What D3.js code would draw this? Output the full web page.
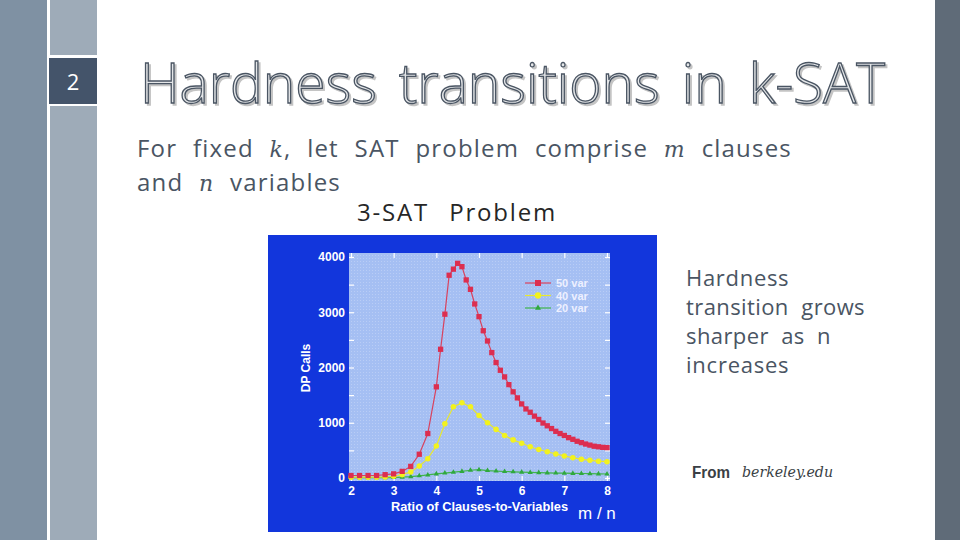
<!DOCTYPE html>
<html>
<head>
<meta charset="UTF-8">
<script src="https://d3js.org/d3.v7.min.js"></script>
<style>
  body { margin: 0; background: #fff; }
  svg text { white-space: pre; }
</style>
</head>
<body>
<div id="slide"></div>
<script>
// ---- data ----
var ratio50 = [2.0,2.2,2.4,2.6,2.8,3.0,3.2,3.4,3.6,3.8,
               4.0,4.1,4.2,4.3,4.4,4.5,4.6,4.7,4.8,4.9,
               5.0,5.1,5.2,5.3,5.4,5.5,5.6,5.7,5.8,5.9,
               6.0,6.1,6.2,6.3,6.4,6.5,6.6,6.7,6.8,6.9,
               7.0,7.1,7.2,7.3,7.4,7.5,7.6,7.7,7.8,7.9,8.0];
var calls50 = [45,45,45,45,60,75,120,210,430,805,
               1650,2330,2965,3670,3780,3885,3825,3585,3415,3150,
               2920,2665,2480,2270,2090,1950,1830,1690,1560,1450,
               1340,1250,1190,1120,1060,995,945,895,845,805,
               770,730,700,665,640,615,595,575,565,555,550];
var ratio40 = [2.0,2.2,2.4,2.6,2.8,3.0,3.2,3.4,3.6,3.8,
               4.0,4.2,4.4,4.6,4.8,5.0,5.2,5.4,5.6,5.8,
               6.0,6.2,6.4,6.6,6.8,7.0,7.2,7.4,7.6,7.8,8.0];
var calls40 = [15,15,15,15,20,30,60,110,215,350,
               580,980,1290,1360,1290,1130,1000,880,770,690,
               630,565,515,475,435,400,365,340,320,305,295];
var ratio20 = ratio40;
var calls20 = [5,5,5,5,5,8,15,25,40,55,
               75,90,105,120,140,150,135,125,118,112,
               106,101,97,93,90,87,84,81,78,75,72];
var seriesNames = ["50 var", "40 var", "20 var"];
var xTicks = [2,3,4,5,6,7,8];
var yTicks = [0,1000,2000,3000,4000];
var yMinor = [0,500,1000,1500,2000,2500,3000,3500,4000];

var width = 960, height = 540;
var slate = "#4a5563";

var svg = d3.select("#slide").append("svg")
    .attr("width", width)
    .attr("height", height);

// stretch the gaps between words so a line ends where the slide's does
function fitWords(sel, target) {
    var txt = sel.text();
    var gaps = (txt.match(/ /g) || []).length;
    var w = sel.node().getComputedTextLength();
    if (gaps > 0) sel.attr("word-spacing", (target - w) / gaps);
    return sel;
}

// ---- slide decoration ----
svg.append("rect").attr("x", 0).attr("y", 0).attr("width", 47).attr("height", height).attr("fill", "#7f91a3");
svg.append("rect").attr("x", 50).attr("y", 0).attr("width", 47).attr("height", height).attr("fill", "#9eabb8");
svg.append("rect").attr("x", 48).attr("y", 55).attr("width", 50).attr("height", 51).attr("fill", "#fff");
svg.append("rect").attr("x", 49).attr("y", 58).attr("width", 48).attr("height", 46).attr("fill", "#44546a");
svg.append("text").attr("x", 73).attr("y", 90).attr("text-anchor", "middle")
    .attr("font-family", "Open Sans").attr("font-size", 22).attr("fill", "#fff").text("2");
svg.append("rect").attr("x", 935).attr("y", 0).attr("width", 25).attr("height", height).attr("fill", "#5f6b78");

// title, outlined with a soft shadow
var title = svg.append("text").attr("x", 140).attr("y", 103)
    .attr("font-family", "Open Sans").attr("font-size", 55).attr("font-weight", 300)
    .attr("fill", "#e4e6e8").attr("stroke", "#4a5563").attr("stroke-width", 1.3)
    .style("filter", "drop-shadow(2px 2px 0 #c4c4c4)")
    .text("Hardness transitions in k-SAT");
fitWords(title, 745);

function richLine(x, y, len, parts, color, ls) {
    var t = svg.append("text").attr("x", x).attr("y", y)
        .attr("font-family", "Open Sans").attr("font-size", 24).attr("fill", color)
        .attr("letter-spacing", ls);
    parts.forEach(function(p) {
        var s = t.append("tspan").text(p[0]);
        if (p[1]) s.attr("font-family", "DejaVu Serif").attr("font-style", "italic").attr("font-size", 22);
    });
    return fitWords(t, len);
}
richLine(137, 157, 655, [["For fixed "], ["k", true], [", let SAT problem comprise "], ["m", true], [" clauses"]], slate, 1.2);
richLine(137, 191, 204, [["and "], ["n", true], [" variables"]], slate, 1.2);
richLine(357, 221, 200, [["3-SAT Problem"]], "#262626", 1.8);

var side = [["Hardness", 103], ["transition grows", 179], ["sharper as n", 145], ["increases", 103]];
side.forEach(function(s, i) {
    var t = svg.append("text").attr("x", 686).attr("y", 286 + i * 29)
        .attr("font-family", "Open Sans").attr("font-size", 22).attr("fill", slate)
        .attr("letter-spacing", 0.4)
        .text(s[0]);
    if (s[0].indexOf(" ") < 0) t.attr("textLength", s[1]).attr("lengthAdjust", "spacing");
    else fitWords(t, s[1]);
});
svg.append("text").attr("x", 692).attr("y", 478)
    .attr("font-family", "Liberation Sans Narrow, Liberation Sans").attr("font-weight", "bold")
    .attr("font-size", 17).attr("fill", "#3a3f45")
    .attr("textLength", 38).attr("lengthAdjust", "spacingAndGlyphs").text("From");
svg.append("text").attr("x", 742).attr("y", 477)
    .attr("font-family", "DejaVu Serif").attr("font-style", "italic")
    .attr("font-size", 14).attr("fill", "#3a3f45")
    .attr("textLength", 91).attr("lengthAdjust", "spacingAndGlyphs").text("berkeley.edu");

// ---- the chart picture ----
svg.append("rect").attr("x", 268).attr("y", 235).attr("width", 389).attr("height", 297).attr("fill", "#1236dc");

var x = d3.scaleLinear().domain([2, 8]).range([351, 607]);
var y = d3.scaleLinear().domain([0, 4000]).range([478, 257]);

var pL = x.range()[0] - 2, pR = x.range()[1] + 3;
var pT = y.range()[1] - 4, pB = y.range()[0] + 3;

var defs = svg.append("defs");
var pat = defs.append("pattern").attr("id", "dots").attr("width", 3).attr("height", 3)
    .attr("patternUnits", "userSpaceOnUse");
pat.append("rect").attr("width", 3).attr("height", 3).attr("fill", "#a5bff3");
pat.append("rect").attr("width", 1).attr("height", 1).attr("fill", "#b9cdf6");

svg.append("rect").attr("x", pL).attr("y", pT).attr("width", pR - pL).attr("height", pB - pT)
    .attr("fill", "url(#dots)");

// inner white ticks
function innerTicks(axis, tx, ty) {
    var g = svg.append("g").attr("transform", "translate(" + tx + "," + ty + ")").call(axis);
    g.select(".domain").remove();
    g.selectAll("line").attr("stroke", "#fff").attr("stroke-width", 1.2);
}
innerTicks(d3.axisRight(y).tickValues(yMinor).tickSize(5).tickFormat(""), pL, 0);
innerTicks(d3.axisLeft(y).tickValues(yMinor).tickSize(5).tickFormat(""), pR, 0);
innerTicks(d3.axisBottom(x).tickValues(xTicks).tickSize(5).tickFormat(""), 0, pT);
innerTicks(d3.axisTop(x).tickValues(xTicks).tickSize(5).tickFormat(""), 0, pB);

// tick labels
var yAxis = svg.append("g").attr("transform", "translate(" + x.range()[0] + ",0)")
    .call(d3.axisLeft(y).tickValues(yTicks).tickSize(0).tickPadding(6).tickFormat(d3.format("d")));
var xAxis = svg.append("g").attr("transform", "translate(0," + y.range()[0] + ")")
    .call(d3.axisBottom(x).tickValues(xTicks).tickSize(0).tickPadding(8).tickFormat(d3.format("d")));
[yAxis, xAxis].forEach(function(g) {
    g.select(".domain").remove();
    g.selectAll("text").attr("fill", "#fff").attr("font-family", "Liberation Sans")
        .attr("font-weight", "bold").attr("font-size", 12);
});

svg.append("text").attr("transform", "translate(310,368) rotate(-90)")
    .attr("text-anchor", "middle").attr("font-family", "Liberation Sans").attr("font-weight", "bold")
    .attr("font-size", 12).attr("fill", "#fff").text("DP Calls");
svg.append("text").attr("x", 391).attr("y", 511)
    .attr("font-family", "Liberation Sans").attr("font-weight", "bold")
    .attr("font-size", 12).attr("fill", "#fff")
    .attr("textLength", 177).attr("lengthAdjust", "spacingAndGlyphs")
    .text("Ratio of Clauses-to-Variables");
svg.append("text").attr("x", 578).attr("y", 519)
    .attr("font-family", "Liberation Sans").attr("font-size", 17).attr("fill", "#fff")
    .text("m / n");

// series
var series = [
    { name: seriesNames[0], xs: ratio50, ys: calls50, line: "#d8425e", fill: "#dc2e50", shape: d3.symbolSquare, size: 28 },
    { name: seriesNames[1], xs: ratio40, ys: calls40, line: "#e8e830", fill: "#f2f21e", shape: d3.symbolCircle, size: 24 },
    { name: seriesNames[2], xs: ratio20, ys: calls20, line: "#3fb54a", fill: "#2fa83e", shape: d3.symbolTriangle, size: 12 }
];

var line = d3.line().x(function(d) { return x(d[0]); }).y(function(d) { return y(d[1]); });

series.slice().reverse().forEach(function(s) {
    var pts = s.xs.map(function(v, i) { return [v, s.ys[i]]; });
    svg.append("path").datum(pts).attr("d", line)
        .attr("fill", "none").attr("stroke", s.line).attr("stroke-width", 1.2);
    svg.append("g").selectAll("path").data(pts).enter().append("path")
        .attr("transform", function(d) { return "translate(" + x(d[0]) + "," + y(d[1]) + ")"; })
        .attr("d", d3.symbol().type(s.shape).size(s.size))
        .attr("fill", s.fill);
});

// legend
var legend = svg.append("g").attr("transform", "translate(525,283)");
series.forEach(function(s, i) {
    var row = legend.append("g").attr("transform", "translate(0," + (i * 12.5) + ")");
    row.append("line").attr("x1", 0).attr("x2", 26).attr("stroke", s.line).attr("stroke-width", 1.2);
    row.append("path").attr("transform", "translate(13,0)")
        .attr("d", d3.symbol().type(s.shape).size(s.size * 1.3)).attr("fill", s.fill);
    row.append("text").attr("x", 31).attr("y", 4)
        .attr("font-family", "Liberation Sans").attr("font-weight", "bold")
        .attr("font-size", 11).attr("fill", "#eef0ff").text(s.name);
});
</script>
</body>
</html>
